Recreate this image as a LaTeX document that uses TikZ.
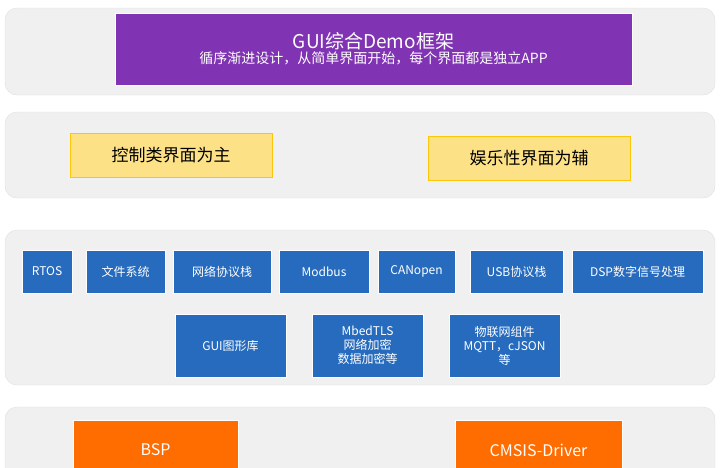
\documentclass[tikz,border=0pt]{standalone}
\usepackage{fontspec}
\setmainfont{Noto Sans CJK SC}
\usetikzlibrary{positioning}

\begin{document}
\begin{tikzpicture}[x=1pt,y=-1pt]
			\tikzstyle{Panel}	= [fill=gray!12, draw=gray!25, rounded corners=12pt]
			\tikzstyle{Box}		= [draw=white, line width=0.8pt, inner sep=0pt, align=center, font=\fontsize{12}{14}\selectfont]
			\tikzstyle{Blue}	= [Box, fill=blue!55!cyan!70!black!85, text=white]
			\tikzstyle{Yellow}	= [Box, fill=yellow!55!orange!45, draw=yellow!60!orange, font=\fontsize{17}{20}\selectfont]
			\tikzstyle{Orange}	= [Box, fill=orange!85!red, text=white, font=\fontsize{16}{18}\selectfont]

			\useasboundingbox (0,0) rectangle (720,467);
			\draw [Panel] (5,8) rectangle (715,95);
			\draw [Panel] (5,112) rectangle (715,198);
			\draw [Panel] (5,230) rectangle (715,385);
			\draw [Panel] (5,407) rectangle (715,490);

			\node (top) at (373.5,49) [Box, fill=violet!75!blue!80, text=white, minimum width=517pt, minimum height=72pt]
				{{\fontsize{19}{24}\selectfont GUI综合Demo框架}\\[1pt]{\fontsize{14}{18}\selectfont 循序渐进设计，从简单界面开始，每个界面都是独立APP}};

			\node (ctrl) at (171,155) [Yellow, minimum width=202pt, minimum height=44pt] {控制类界面为主};
			\node (fun) at (529,158) [Yellow, minimum width=202pt, minimum height=44pt] {娱乐性界面为辅};

			\foreach \n/\a/\b/\t in {rtos/22/72/RTOS, fs/86/165/文件系统, net/173/271/网络协议栈, mod/279/369/Modbus,
					can/378/455/CANopen, usb/470/563/USB协议栈, dsp/572/703/DSP数字信号处理}
				\node (\n) at ({(\a+\b)/2},271.5) [Blue, minimum width={\b-\a}, minimum height=43pt] {\t};
			\foreach \n/\a/\b/\t in {gui/175/286/GUI图形库, mbed/312/423/{MbedTLS\\网络加密\\数据加密等},
					iot/449/560/{物联网组件\\MQTT，cJSON\\等}}
				\node (\n) at ({(\a+\b)/2},345.5) [Blue, minimum width={\b-\a}, minimum height=63pt] {\t};

			\node (bsp) at (155.5,450) [Orange, minimum width=165pt, minimum height=60pt] {BSP};
			\node (cmsis) at (538.5,450) [Orange, minimum width=167pt, minimum height=60pt] {CMSIS-Driver};
\end{tikzpicture}
\end{document}
